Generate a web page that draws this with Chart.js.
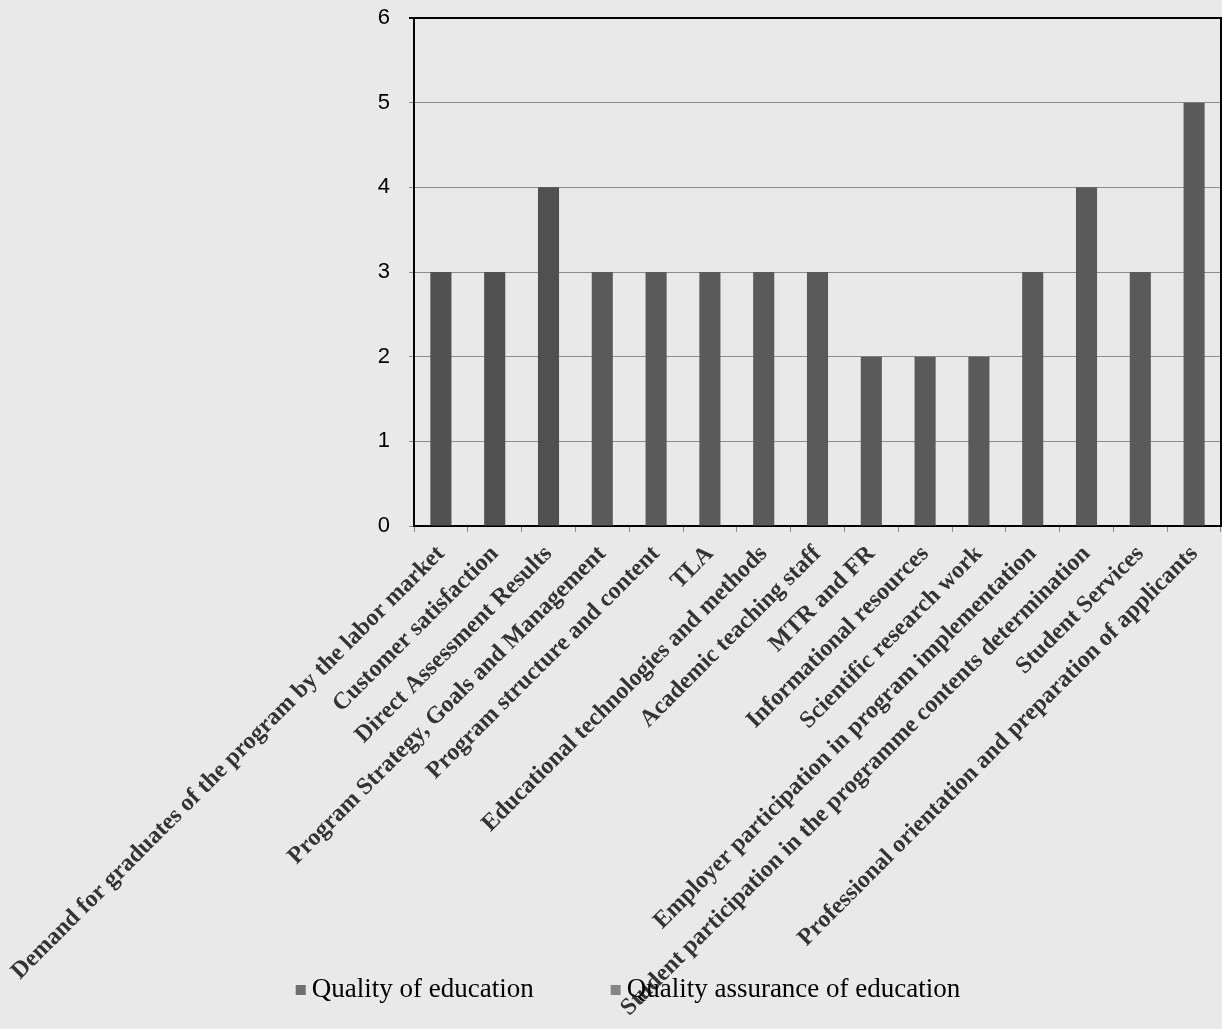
<!DOCTYPE html>
<html>
<head>
<meta charset="utf-8">
<script src="https://cdn.jsdelivr.net/npm/chart.js@4"></script>
<style>
html,body{margin:0;padding:0;background:#e9e9e9;}
#wrap{width:1222px;height:1029px;}
</style>
</head>
<body>
<div id="wrap"><canvas id="barChart"></canvas></div>
<script>
/* DATA */
const categories = [
'Demand for graduates of the program by the labor market',
'Customer satisfaction',
'Direct Assessment Results',
'Program Strategy, Goals and Management',
'Program structure and content',
'TLA',
'Educational technologies and methods',
'Academic teaching staff',
'MTR and FR',
'Informational resources',
'Scientific research work',
'Employer participation in program implementation',
'Student participation in the programme contents determination',
'Student Services',
'Professional orientation and preparation of applicants'
];
const qualityOfEducation = [3,3,4,null,null,null,null,null,null,null,null,null,null,null,null];
const qualityAssurance = [null,null,null,3,3,3,3,3,2,2,2,3,4,3,5];
const yTicks = [0,1,2,3,4,5,6];


/* LEGEND DRAWN UNDER THE LABELS (the labels run into it, like the original) */
const bottomLegend = {
id:'bottomLegend',
afterDraw(chart){
const ctx = chart.ctx;
const sets = chart.data.datasets;
const font = '27px "Liberation Serif"';
const box = 10, gap = 6, spacing = 77, cy = 990, cx = 628;
ctx.save();
ctx.font = font;
const widths = sets.map(d => box + gap + ctx.measureText(d.label).width);
const total = widths.reduce((a,b) => a + b, 0) + spacing * (sets.length - 1);
let x = cx - total / 2;
ctx.textBaseline = 'middle';
ctx.textAlign = 'left';
sets.forEach((d, i) => {
ctx.fillStyle = d.legendColor;
ctx.fillRect(x, cy - box / 2, box, box);
ctx.fillStyle = '#000';
ctx.fillText(d.label, x + box + gap, cy);
x += widths[i] + spacing;
});
ctx.restore();
}
};


/* BAR CHART */
const barChart = new Chart(
document.getElementById('barChart'),
{
type:'bar',
data:{
labels:categories,
datasets:[
{
label:'Quality of education',
data:qualityOfEducation,
backgroundColor:'#505050',
legendColor:'#6e6e6e',
skipNull:true
},
{
label:'Quality assurance of education',
data:qualityAssurance,
backgroundColor:'#5a5a5a',
legendColor:'#858585',
skipNull:true
}
]
},
options:{
responsive:true,
maintainAspectRatio:false,
animation:false,
categoryPercentage:0.8,
barPercentage:0.49,
layout:{padding:{left:0,right:1,top:18,bottom:0}},
plugins:{
tooltip:{enabled:false},
legend:{display:false}
},
scales:{
x:{
grid:{drawOnChartArea:false,tickLength:6,color:'#888'},
border:{color:'#000',width:2},
ticks:{
minRotation:45,
maxRotation:45,
autoSkip:false,
padding:8,
color:'#333',
font:{family:'Liberation Serif',size:24,weight:'bold'}
},
afterFit:function(scale){
scale.height = 503;
scale.paddingLeft = 0;
scale.paddingRight = 0;
}
},
y:{
min:0,
max:6,
afterBuildTicks:function(scale){
scale.ticks = yTicks.map(v => ({value:v}));
},
grid:{
tickLength:5,
color:ctx => ctx.tick && ctx.tick.value === 6 ? '#000' : '#8c8c8c',
lineWidth:ctx => ctx.tick && ctx.tick.value === 6 ? 2 : 1
},
border:{color:'#000',width:2},
ticks:{
padding:19,
color:'#000',
font:{family:'Liberation Sans',size:22}
},
afterFit:function(scale){
scale.width = 414;
scale.paddingTop = 0;
scale.paddingBottom = 0;
}
},
y2:{
position:'right',
min:0,
max:6,
grid:{display:false,drawTicks:false},
ticks:{display:false},
border:{color:'#000',width:2},
afterFit:function(scale){
scale.width = 0;
scale.paddingTop = 0;
scale.paddingBottom = 0;
}
}
}
},
plugins:[bottomLegend]
}
);
</script>
</body>
</html>
